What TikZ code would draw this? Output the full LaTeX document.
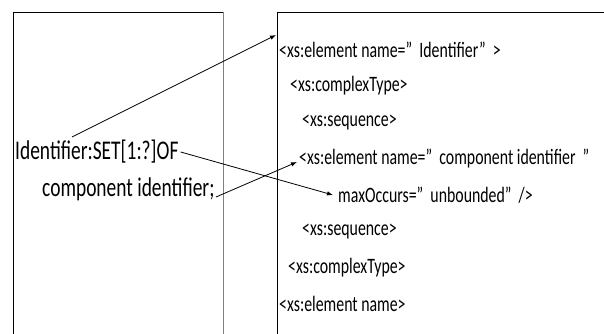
\documentclass[tikz,border=0pt]{standalone}
\usepackage{fontspec}
\setmainfont{Carlito}[FakeStretch=0.72]
\usetikzlibrary{arrows.meta}
\begin{document}
\begin{tikzpicture}[x=1pt,y=-1pt,
  frame/.style={line width=0.9pt},
  lt/.style={anchor=west,inner sep=0pt,font=\fontsize{27}{27}\selectfont},
  rt/.style={anchor=west,inner sep=0pt,font=\fontsize{22}{22}\selectfont},
  conn/.style={line width=0.8pt,-{Latex[length=6pt,width=4.5pt]}}]
\useasboundingbox (0,0) rectangle (604,334);
% frames
\draw[frame] (13,334) -- (13,12) -- (223,12);
\draw[frame,gray] (223,12) -- (223,334);
\draw[frame] (277,334) -- (277,12) -- (604,12);
% left text
\node[lt] (l1) at (15,152) {Identifier:SET[1:?]OF};
\node[lt] (l2) at (42,189) {component identifier;};
% right text
\node[rt] (r1) at (279,50) {<xs:element name=”\ \ Identifier”\ \ >};
\node[rt] (r2) at (290,86) {<xs:complexType>};
\node[rt] (r3) at (302,123) {<xs:sequence>};
\node[rt] (r4) at (299,159) {<xs:element name=”\ \ component identifier\ \ ”};
\node[rt] (r5) at (338,195) {maxOccurs=”\ \ unbounded”\ \ />};
\node[rt] (r6) at (302,232) {<xs:sequence>};
\node[rt] (r7) at (288,268) {<xs:complexType>};
\node[rt] (r8) at (279,304) {<xs:element name>};
% connector ends
\coordinate (s1) at (72,137);
\coordinate (e1) at (276,35);
\coordinate (s3) at (216,197);
\draw[conn] (s1) -- (e1);
\draw[conn] (l1.east) ++(2,0) -- ([xshift=-5pt]r5.west);
\draw[conn] (s3) -- ([xshift=-2pt,yshift=-3pt]r4.west);
\end{tikzpicture}
\end{document}
